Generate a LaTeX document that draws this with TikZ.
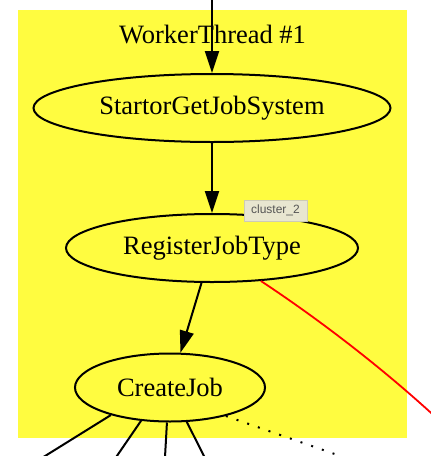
\documentclass[tikz,border=0pt]{standalone}
\usepackage{fontspec}
\setmainfont{Liberation Serif}
\newfontfamily\tipfont{Liberation Sans}
\usetikzlibrary{arrows.meta,shapes.geometric,shadows}
\definecolor{clusteryellow}{RGB}{255,252,64}
\definecolor{tipfill}{RGB}{232,230,208}
\definecolor{tipline}{RGB}{205,203,182}
\definecolor{tiptext}{RGB}{85,85,85}
\tikzset{
  jobnode/.style={ellipse, draw=black, line width=2pt, inner sep=0pt,
    minimum height=68pt, font=\fontsize{26.5}{31}\selectfont},
  calledge/.style={line width=2pt, -{Triangle[length=22pt,width=14pt]}},
  outedge/.style={line width=2pt},
  dotedge/.style={line width=2pt, dash pattern=on 2pt off 9.3pt},
  rededge/.style={line width=1.8pt, color=red},
  tipbox/.style={draw=tipline, line width=0.6pt, fill=tipfill, inner sep=0pt,
    minimum width=63pt, minimum height=21pt, text=tiptext,
    font=\tipfont\fontsize{12}{14}\selectfont,
    drop shadow={opacity=0.12, shadow xshift=0.6pt, shadow yshift=-1pt}}
}

\begin{document}
\begin{tikzpicture}[x=1pt, y=-1pt]
		%%%%% START %%%%%
		\clip (0, 0) rectangle (431, 456);
		
		\fill[clusteryellow] (18, 10) rectangle (407, 438);
		\node[font=\fontsize{26.5}{31}\selectfont, anchor=base] (title) at (212.5, 43) {WorkerThread \#1};
		
		\node[jobnode, minimum width=357pt] (sgjs) at (212, 108) {StartorGetJobSystem};
		\node[jobnode, minimum width=292pt] (rjt) at (212, 248) {RegisterJobType};
		\node[jobnode, minimum width=190pt] (cj) at (170, 387.5) {CreateJob};
		
		\coordinate (entry) at (212, -10);
		\draw[calledge] (entry) -- (sgjs);
		\draw[calledge] (sgjs) -- (rjt);
		\draw[calledge] (rjt) -- (cj);
		
		\coordinate (redout) at (470, 450);
		\draw[rededge] (rjt.-34) .. controls (320, 320) and (400, 380) .. (redout);
		
		\coordinate (out1) at (29, 466);
		\coordinate (out2) at (110, 466);
		\coordinate (out3) at (164.5, 466);
		\coordinate (out4) at (209, 466);
		\coordinate (out5) at (369, 466);
		\draw[outedge] (cj.205) -- (out1);
		\draw[outedge] (cj.229) -- (out2);
		\draw[outedge] (cj.265) -- (out3);
		\draw[outedge] (cj.-64) -- (out4);
		\draw[dotedge] (cj.-27) -- (out5);
		
		\node[tipbox] (tip) at (275.5, 210.5) {cluster\_2};
		%%%%% END %%%%%
\end{tikzpicture}
\end{document}
